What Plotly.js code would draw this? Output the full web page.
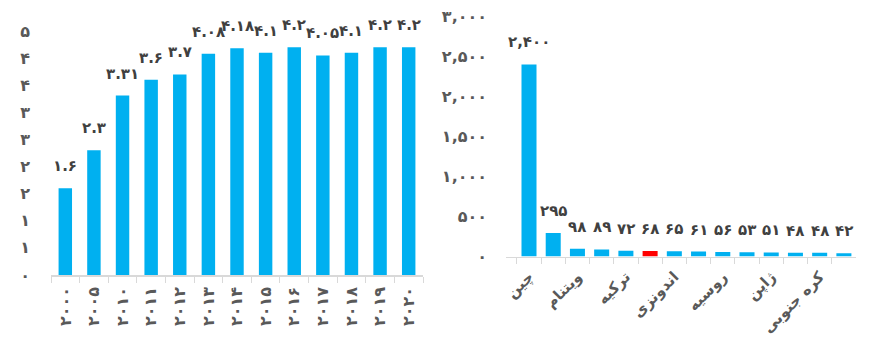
<!DOCTYPE html>
<html>
<head>
<meta charset="utf-8">
<script src="https://cdn.plot.ly/plotly-3.0.1.min.js"></script>
<style>
  html, body { margin: 0; padding: 0; background: #fff; }
  #chart { width: 876px; height: 341px; }
</style>
</head>
<body>
<div id="chart"></div>
<script>
// Left panel: yearly series
const years = ['2000', '2005', '2010', '2011', '2012', '2013', '2014', '2015', '2016', '2017', '2018', '2019', '2020'];
const yearValues = [1.6, 2.3, 3.31, 3.6, 3.7, 4.08, 4.18, 4.1, 4.2, 4.05, 4.1, 4.2, 4.2];
const leftTickVals = [0, 0.5, 1, 1.5, 2, 2.5, 3, 3.5, 4, 4.5];

// Right panel: countries (only every other name is labelled on the axis)
const countries = ['چین', 'هند', 'ویتنام', 'آمریکا', 'ترکیه', 'ایران', 'اندونزی', 'مصر', 'روسیه', 'برزیل', 'ژاپن', 'عربستان', 'کره جنوبی', 'پاکستان'];
const countryValues = [2400, 295, 98, 89, 72, 68, 65, 61, 56, 53, 51, 48, 48, 42];
const highlighted = 'ایران';
const rightTickVals = [0, 500, 1000, 1500, 2000, 2500, 3000];

const FA = '۰۱۲۳۴۵۶۷۸۹';
const toFa = s => String(s).replace(/[0-9]/g, d => FA[+d]);
const withCommas = n => String(n).replace(/\B(?=(\d{3})+(?!\d))/g, ',');

// Year categories written with Persian digits
const yearCats = years.map(toFa);

const BLUE = '#00B0F0';
const RED = '#FF0000';
const FONT = 'DejaVu Sans';
const LABEL_COLOR = '#404040';
const TICK_COLOR = '#595959';
const AXIS_COLOR = '#d9d9d9';

const traces = [
  {
    type: 'bar', x: yearCats, y: yearValues, xaxis: 'x', yaxis: 'y', width: 0.47,
    marker: { color: BLUE, line: { width: 0 } }, hoverinfo: 'x+y'
  },
  {
    type: 'bar', x: countries, y: countryValues, xaxis: 'x2', yaxis: 'y2', width: 0.62,
    marker: { color: countries.map(c => c === highlighted ? RED : BLUE), line: { width: 0 } },
    hoverinfo: 'x+y'
  }
];

const labelFont = { family: FONT, size: 15, color: LABEL_COLOR, weight: 'bold' };
const annotations = [];
yearCats.forEach((yr, i) => {
  annotations.push({
    xref: 'x', yref: 'y', x: yr, y: yearValues[i], text: toFa(yearValues[i]),
    showarrow: false, yanchor: 'middle', yshift: 22, font: labelFont
  });
});
countries.forEach((c, i) => {
  annotations.push({
    xref: 'x2', yref: 'y2', x: c, y: countryValues[i], text: toFa(withCommas(countryValues[i])),
    showarrow: false, yanchor: 'middle', yshift: 22, font: labelFont
  });
});

const tickFont = { family: FONT, size: 16, color: TICK_COLOR, weight: 'bold' };

const layout = {
  width: 876, height: 341,
  margin: { l: 0, r: 0, t: 0, b: 0 },
  paper_bgcolor: '#fff', plot_bgcolor: '#fff',
  showlegend: false,
  xaxis: {
    domain: [51 / 876, 423 / 876], anchor: 'y', type: 'category',
    tickangle: -90, tickfont: tickFont, ticklabelstandoff: 4,
    showline: true, linecolor: AXIS_COLOR, linewidth: 1.5,
    ticks: 'outside', tickson: 'boundaries', ticklen: 6, tickcolor: AXIS_COLOR,
    showgrid: false, zeroline: false, fixedrange: true
  },
  yaxis: {
    domain: [(341 - 275) / 341, (341 - 31) / 341], anchor: 'x',
    range: [0, 4.5], tickmode: 'array', tickvals: leftTickVals,
    ticktext: leftTickVals.map(v => toFa(Math.round(v + 1e-9))),
    tickfont: tickFont, ticks: '', ticklabelstandoff: 20,
    showline: false, showgrid: false, zeroline: false, fixedrange: true
  },
  xaxis2: {
    domain: [506 / 876, 856 / 876], anchor: 'y2', type: 'category',
    tickmode: 'array', tickvals: countries,
    ticktext: countries.map((c, i) => i % 2 === 0 ? c : ''),
    tickangle: -45, tickfont: { family: FONT, size: 15, color: TICK_COLOR, weight: 'bold' },
    ticklabelstandoff: 4,
    showline: true, linecolor: AXIS_COLOR, linewidth: 1.5,
    ticks: 'outside', tickson: 'boundaries', ticklen: 6, tickcolor: AXIS_COLOR,
    showgrid: false, zeroline: false, fixedrange: true
  },
  yaxis2: {
    domain: [(341 - 256.5) / 341, (341 - 16.5) / 341], anchor: 'x2',
    range: [0, 3000], tickmode: 'array', tickvals: rightTickVals,
    ticktext: rightTickVals.map(v => toFa(withCommas(v))),
    tickfont: tickFont, ticks: '', ticklabelstandoff: 18,
    showline: false, showgrid: false, zeroline: false, fixedrange: true
  },
  annotations: annotations
};

Plotly.newPlot('chart', traces, layout, { displayModeBar: false, staticPlot: true });
</script>
</body>
</html>
